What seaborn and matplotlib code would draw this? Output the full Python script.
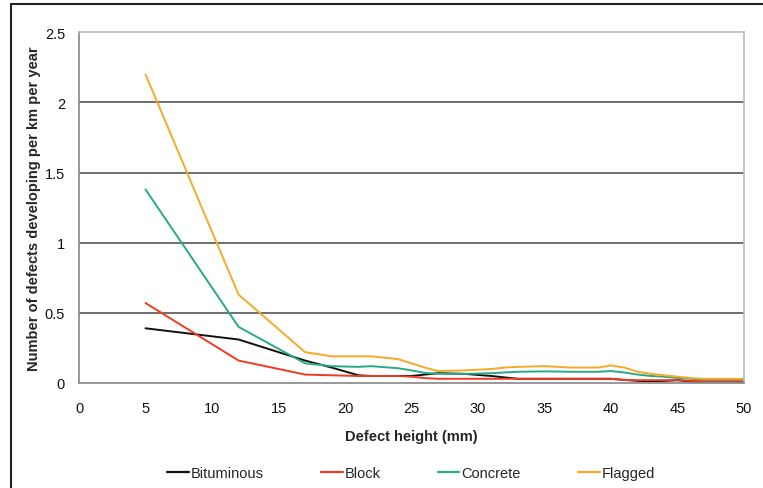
import matplotlib
matplotlib.use("Agg")
import matplotlib.pyplot as plt
import seaborn as sns
import pandas as pd
from matplotlib.lines import Line2D

# defect height (mm)
heights = [5, 12, 17, 19, 21, 22, 24, 25, 26, 27, 29, 31, 32, 33, 35, 37, 39, 40, 41, 42, 43, 44, 45, 46, 47, 50]

bituminous = [0.39, 0.31, 0.16, 0.11, 0.055, 0.05, 0.05, 0.05, 0.06, 0.07, 0.065, 0.05, 0.04, 0.03,
              0.03, 0.03, 0.03, 0.03, 0.022, 0.015, 0.012, 0.015, 0.02, 0.01, 0.01, 0.01]
block = [0.57, 0.16, 0.06, 0.055, 0.05, 0.05, 0.05, 0.045, 0.035, 0.03, 0.03, 0.03, 0.03, 0.03,
         0.03, 0.03, 0.03, 0.03, 0.022, 0.02, 0.02, 0.02, 0.02, 0.015, 0.012, 0.012]
concrete = [1.38, 0.40, 0.14, 0.12, 0.115, 0.12, 0.105, 0.09, 0.072, 0.066, 0.065, 0.07, 0.075, 0.08,
            0.083, 0.08, 0.08, 0.085, 0.075, 0.06, 0.05, 0.045, 0.036, 0.03, 0.025, 0.025]
flagged = [2.2, 0.63, 0.22, 0.19, 0.19, 0.19, 0.17, 0.14, 0.11, 0.085, 0.09, 0.10, 0.11, 0.115,
           0.12, 0.11, 0.11, 0.125, 0.11, 0.08, 0.065, 0.055, 0.045, 0.035, 0.03, 0.03]

surfaces = ["Bituminous", "Block", "Concrete", "Flagged"]
colors = ["#111111", "#ee3b22", "#2aa985", "#f7a928"]

rows = []
for name, vals in zip(surfaces, [bituminous, block, concrete, flagged]):
  for h, v in zip(heights, vals):
    rows.append({"height": h, "rate": v, "surface": name})
df = pd.DataFrame(rows)

sns.set_style("white")
plt.rcParams['font.family'] = ['Liberation Sans', 'DejaVu Sans']

fig = plt.figure(figsize=(7.63, 4.89), dpi=100)
ax = fig.add_axes([79/763, 1 - 384/489, (744-79)/763, (384-33.3)/489])

sns.lineplot(data=df, x="height", y="rate", hue="surface", hue_order=surfaces,
             palette=colors, linewidth=1.4, ax=ax, legend=False)

ax.set_xlim(0, 50)
ax.set_ylim(0, 2.5)
ax.set_xticks(range(0, 51, 5))
ax.set_yticks([0, 0.5, 1, 1.5, 2, 2.5])
ax.set_yticklabels(["0", "0.5", "1", "1.5", "2", "2.5"])
for y in [0.5, 1, 1.5, 2]:
  ax.axhline(y, color="#555555", linewidth=1.2, zorder=0)
for side in ["left", "bottom"]:
  ax.spines[side].set_color("#888888")
  ax.spines[side].set_linewidth(1.2)
for side in ["top", "right"]:
  ax.spines[side].set_color("#bbbbbb")
  ax.spines[side].set_linewidth(1.2)
ax.tick_params(axis="both", direction="inout", length=6, width=1, color="#555555",
               labelsize=10.5, labelcolor="#111111")
ax.tick_params(axis="x", pad=10)
ax.tick_params(axis="y", pad=7)
ax.set_xlabel("Defect height (mm)", fontsize=10.5, fontweight="bold", labelpad=10)
ax.set_ylabel("Number of defects developing per km per year", fontsize=10.5, fontweight="bold", labelpad=3)

handles = [Line2D([0], [0], color=c, linewidth=1.6) for c in colors]
fig.legend(handles, surfaces, loc="center", bbox_to_anchor=(411/763, 1 - 474/489), ncol=4,
           frameon=False, fontsize=10.5, handlelength=1.5, handletextpad=0.15, columnspacing=3.9)

# outer frame lines
fig.add_artist(Line2D([11/763, 1], [1 - 5/489, 1 - 5/489], color="#222222", linewidth=1.5,
                      transform=fig.transFigure))
fig.add_artist(Line2D([11/763, 11/763], [0, 1 - 5/489], color="#222222", linewidth=1.5,
                      transform=fig.transFigure))

fig.savefig("out.png", dpi=100)
